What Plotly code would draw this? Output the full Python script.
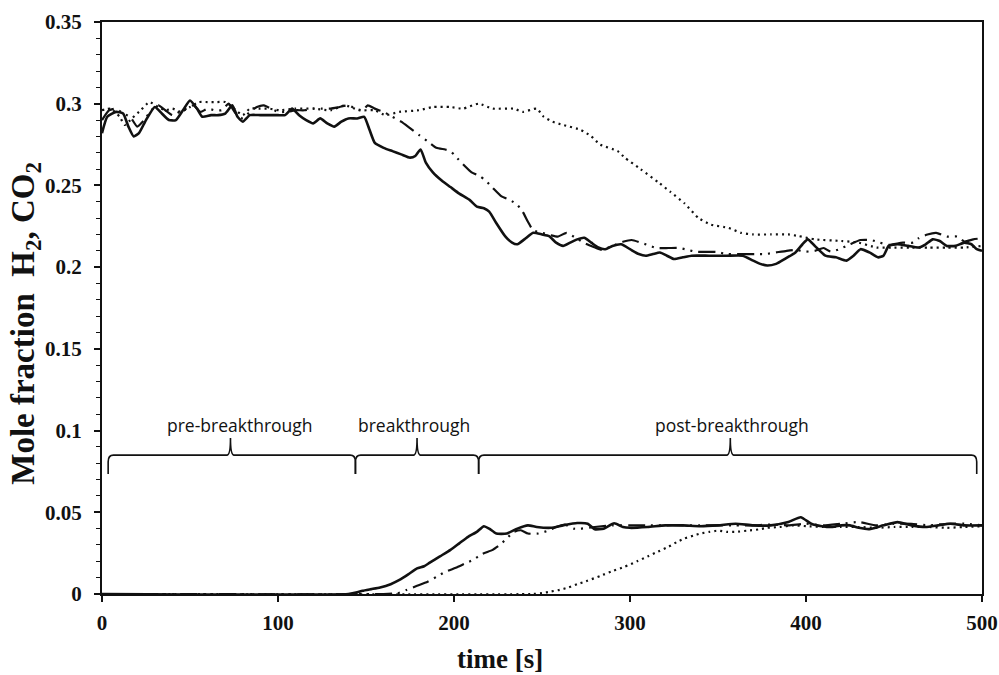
import plotly.graph_objects as go

# ---------------- data ----------------
# Upper curves (~0.30 falling to ~0.21)
up_solid_t = [0,3,8,12,15,18,21,25,30,34,38,42,46,50,54,57,62,66,70,74,77,80,84,90,95,100,104,108,112,116,120,124,128,132,136,140,145,149,152,155,160,165,170,175,178,181,184,188,193,198,203,209,213,217,220,224,229,233,236,240,245,250,254,258,262,266,270,274,278,282,286,290,295,300,305,309,313,317,321,325,330,335,345,355,364,370,374,378,383,388,394,398,401,405,411,417,423,427,431,436,441,444,447,452,458,464,468,472,476,480,485,490,494,497,500]
up_solid_y = [0.282,0.292,0.295,0.294,0.286,0.280,0.282,0.290,0.298,0.294,0.290,0.290,0.296,0.302,0.297,0.292,0.293,0.293,0.294,0.299,0.292,0.289,0.293,0.293,0.293,0.293,0.293,0.297,0.293,0.290,0.288,0.291,0.288,0.286,0.289,0.291,0.291,0.292,0.284,0.276,0.273,0.271,0.269,0.267,0.268,0.272,0.264,0.258,0.253,0.249,0.245,0.241,0.237,0.236,0.234,0.227,0.219,0.215,0.214,0.217,0.221,0.220,0.219,0.215,0.213,0.215,0.217,0.218,0.215,0.212,0.211,0.213,0.214,0.211,0.208,0.207,0.208,0.209,0.207,0.205,0.206,0.207,0.207,0.207,0.207,0.204,0.202,0.201,0.202,0.205,0.209,0.214,0.217,0.213,0.207,0.206,0.204,0.207,0.211,0.209,0.206,0.207,0.213,0.214,0.213,0.212,0.214,0.217,0.216,0.213,0.213,0.215,0.214,0.211,0.210]

up_dashdot_t = [0,4,8,12,16,20,24,28,32,36,40,44,48,52,56,60,64,68,72,76,80,84,88,92,96,100,105,110,115,120,125,130,135,140,144,148,151,155,160,165,170,175,180,185,190,195,198,201,206,210,215,218,222,227,232,236,239,242,245,250,255,259,264,269,274,279,284,290,296,301,306,310,315,322,328,333,337,343,349,355,364,371,377,383,389,394,400,405,410,414,419,425,431,437,442,447,455,461,464,469,474,480,486,490,495,500]
up_dashdot_y = [0.290,0.296,0.297,0.294,0.292,0.286,0.290,0.296,0.299,0.296,0.293,0.295,0.297,0.299,0.295,0.297,0.296,0.296,0.300,0.294,0.291,0.295,0.298,0.299,0.297,0.295,0.295,0.296,0.296,0.297,0.297,0.297,0.298,0.299,0.297,0.296,0.299,0.297,0.295,0.292,0.289,0.285,0.281,0.277,0.273,0.272,0.271,0.2676,0.262,0.258,0.2555,0.253,0.2485,0.2433,0.241,0.238,0.234,0.2278,0.2225,0.221,0.2195,0.2187,0.221,0.218,0.2148,0.2125,0.2105,0.213,0.2155,0.2166,0.215,0.2136,0.2117,0.2117,0.2117,0.2105,0.2095,0.2093,0.2093,0.208,0.208,0.208,0.208,0.209,0.210,0.2105,0.2095,0.210,0.2117,0.2095,0.211,0.214,0.2166,0.2166,0.215,0.2136,0.215,0.215,0.2177,0.220,0.221,0.2187,0.2187,0.2157,0.217,0.2177]

up_dot_t = [0,5,10,13,17,22,27,32,36,40,45,50,55,60,65,70,75,80,84,90,95,101,110,120,130,138,146,155,161,169,180,188,198,205,214,222,234,239,247,251,256,262,272,278,283,293,297,306,316,323,331,339,346,356,363,370,380,390,396,405,420,430,440,450,460,470,480,490,500]
up_dot_y = [0.296,0.297,0.292,0.287,0.291,0.296,0.301,0.298,0.296,0.297,0.295,0.298,0.301,0.301,0.301,0.301,0.297,0.293,0.297,0.297,0.297,0.296,0.297,0.297,0.296,0.299,0.296,0.296,0.293,0.295,0.296,0.298,0.298,0.297,0.300,0.297,0.297,0.295,0.297,0.292,0.289,0.287,0.284,0.280,0.275,0.271,0.267,0.260,0.252,0.246,0.239,0.230,0.226,0.224,0.221,0.220,0.220,0.220,0.219,0.217,0.216,0.215,0.212,0.212,0.212,0.212,0.212,0.212,0.213]

# Lower curves (0 rising to ~0.042)
lo_solid_t = [0,140,145,148,153,158,164,169,174,179,183,186,192,198,203,208,213,217,220,224,230,236,242,247,255,262,270,276,280,285,291,296,300,310,320,330,340,350,360,370,380,390,397,403,409,415,420,425,430,436,444,452,460,468,475,482,490,500]
lo_solid_y = [0,0,0.001,0.002,0.003,0.004,0.006,0.0086,0.012,0.0157,0.017,0.019,0.023,0.027,0.031,0.035,0.038,0.0415,0.040,0.037,0.037,0.040,0.042,0.041,0.0405,0.042,0.0434,0.043,0.0396,0.040,0.0433,0.041,0.0405,0.041,0.042,0.042,0.0415,0.042,0.043,0.042,0.042,0.044,0.047,0.043,0.0415,0.041,0.042,0.042,0.0405,0.0397,0.042,0.044,0.042,0.041,0.042,0.043,0.042,0.042]

lo_dashdot_t = [0,160,168,173,179,185,190,195,201,206,211,216,222,226,230,234,238,242,248,254,258,263,268,272,280,290,300,310,320,330,340,350,360,370,380,390,400,410,420,430,440,450,460,470,480,490,500]
lo_dashdot_y = [0,0,0.0005,0.0025,0.005,0.0075,0.0105,0.0135,0.016,0.0185,0.021,0.0245,0.027,0.030,0.034,0.038,0.039,0.037,0.037,0.039,0.041,0.0425,0.040,0.040,0.041,0.042,0.042,0.042,0.042,0.042,0.042,0.042,0.042,0.042,0.0425,0.042,0.043,0.042,0.043,0.044,0.042,0.043,0.043,0.042,0.043,0.043,0.042]

lo_dot_t = [0,245,250,255,260,265,270,275,283,290,297,304,310,316,322,327,331,336,340,345,350,355,360,367,373,378,385,393,400,410,420,430,440,450,460,470,480,490,500]
lo_dot_y = [0,0,0.0005,0.0015,0.0025,0.004,0.006,0.0078,0.011,0.014,0.0167,0.020,0.023,0.026,0.029,0.032,0.034,0.0357,0.037,0.038,0.0388,0.038,0.038,0.0388,0.0395,0.0405,0.041,0.042,0.0415,0.041,0.041,0.041,0.0405,0.041,0.041,0.041,0.0405,0.041,0.0415]

# Phase brackets
phase_bounds = [3.5, 144, 214, 497]
phase_mids = [73, 179, 357]
phase_labels = ["pre-breakthrough", "breakthrough", "post-breakthrough"]
phase_label_x = [78.5, 177, 358]

x_ticks = [0, 100, 200, 300, 400, 500]
y_ticks = [0, 0.05, 0.1, 0.15, 0.2, 0.25, 0.3, 0.35]

# ---------------- styles ----------------
BLACK = "#111111"
SOLID = dict(color=BLACK, width=2.6, dash="solid")
DASHDOT = dict(color=BLACK, width=2.2, dash="17px,6px,2px,6px,2px,6px")
DOTTED = dict(color=BLACK, width=2.2, dash="2px,4px")

fig = go.Figure()
for t, y, ln in [
    (up_dot_t, up_dot_y, DOTTED),
    (up_dashdot_t, up_dashdot_y, DASHDOT),
    (up_solid_t, up_solid_y, SOLID),
    (lo_dot_t, lo_dot_y, DOTTED),
    (lo_dashdot_t, lo_dashdot_y, DASHDOT),
    (lo_solid_t, lo_solid_y, SOLID),
]:
    fig.add_trace(go.Scatter(x=t, y=y, mode="lines", line=dict(**ln, shape="spline", smoothing=0.5),
                             showlegend=False, hoverinfo="skip"))

# curly braces
yb, up, down, r, r2 = 0.085, 0.0105, 0.0115, 3.0, 2.0
for i in range(3):
    x0, x1, xm = phase_bounds[i], phase_bounds[i + 1], phase_mids[i]
    path = (f"M {x0},{yb-down} L {x0},{yb-down*0.35} Q {x0},{yb} {x0+r},{yb} "
            f"L {xm-r2},{yb} Q {xm},{yb} {xm},{yb+up} Q {xm},{yb} {xm+r2},{yb} "
            f"L {x1-r},{yb} Q {x1},{yb} {x1},{yb-down*0.35} L {x1},{yb-down}")
    fig.add_shape(type="path", path=path, xref="x", yref="y",
                  line=dict(color=BLACK, width=1.6))
    fig.add_annotation(x=phase_label_x[i], y=0.1035, xref="x", yref="y",
                       text=phase_labels[i], showarrow=False,
                       font=dict(family="Open Sans", size=17.5, color=BLACK))

serif = "Liberation Serif"
# axis titles
fig.add_annotation(x=-0.0865, y=0.474, xref="paper", yref="paper", textangle=-90,
                   xanchor="center", yanchor="middle",
                   text="Mole fraction  H<sub>2</sub>, CO<sub>2</sub>", showarrow=False,
                   font=dict(family=serif, size=33, color=BLACK, weight="bold"))
fig.add_annotation(x=0.452, y=-0.114, xref="paper", yref="paper",
                   xanchor="center", yanchor="middle",
                   text="time [s]", showarrow=False,
                   font=dict(family=serif, size=27, color=BLACK, weight="bold"))

fig.update_layout(
    width=999, height=675,
    margin=dict(l=102, r=17, t=22, b=81, autoexpand=False),
    plot_bgcolor="white", paper_bgcolor="white",
    xaxis=dict(range=[0, 500], tickvals=x_ticks, ticks="outside", ticklen=6, tickwidth=1.5,
               tickcolor=BLACK, showline=True, linewidth=2, linecolor=BLACK, mirror=True,
               showgrid=False, zeroline=False, automargin=False, ticklabelstandoff=3,
               tickfont=dict(family=serif, size=21, color=BLACK, weight="bold")),
    yaxis=dict(range=[0, 0.35], tickvals=y_ticks, ticks="outside", ticklen=6, tickwidth=1.5,
               tickcolor=BLACK, showline=True, linewidth=2, linecolor=BLACK, mirror=True,
               showgrid=False, zeroline=False, ticklabelstandoff=8, automargin=False,
               minor=dict(dtick=0.01, ticks="outside", ticklen=4, tickwidth=1.2, tickcolor=BLACK),
               tickfont=dict(family=serif, size=21, color=BLACK, weight="bold")),
)

fig.write_html("out.html")
